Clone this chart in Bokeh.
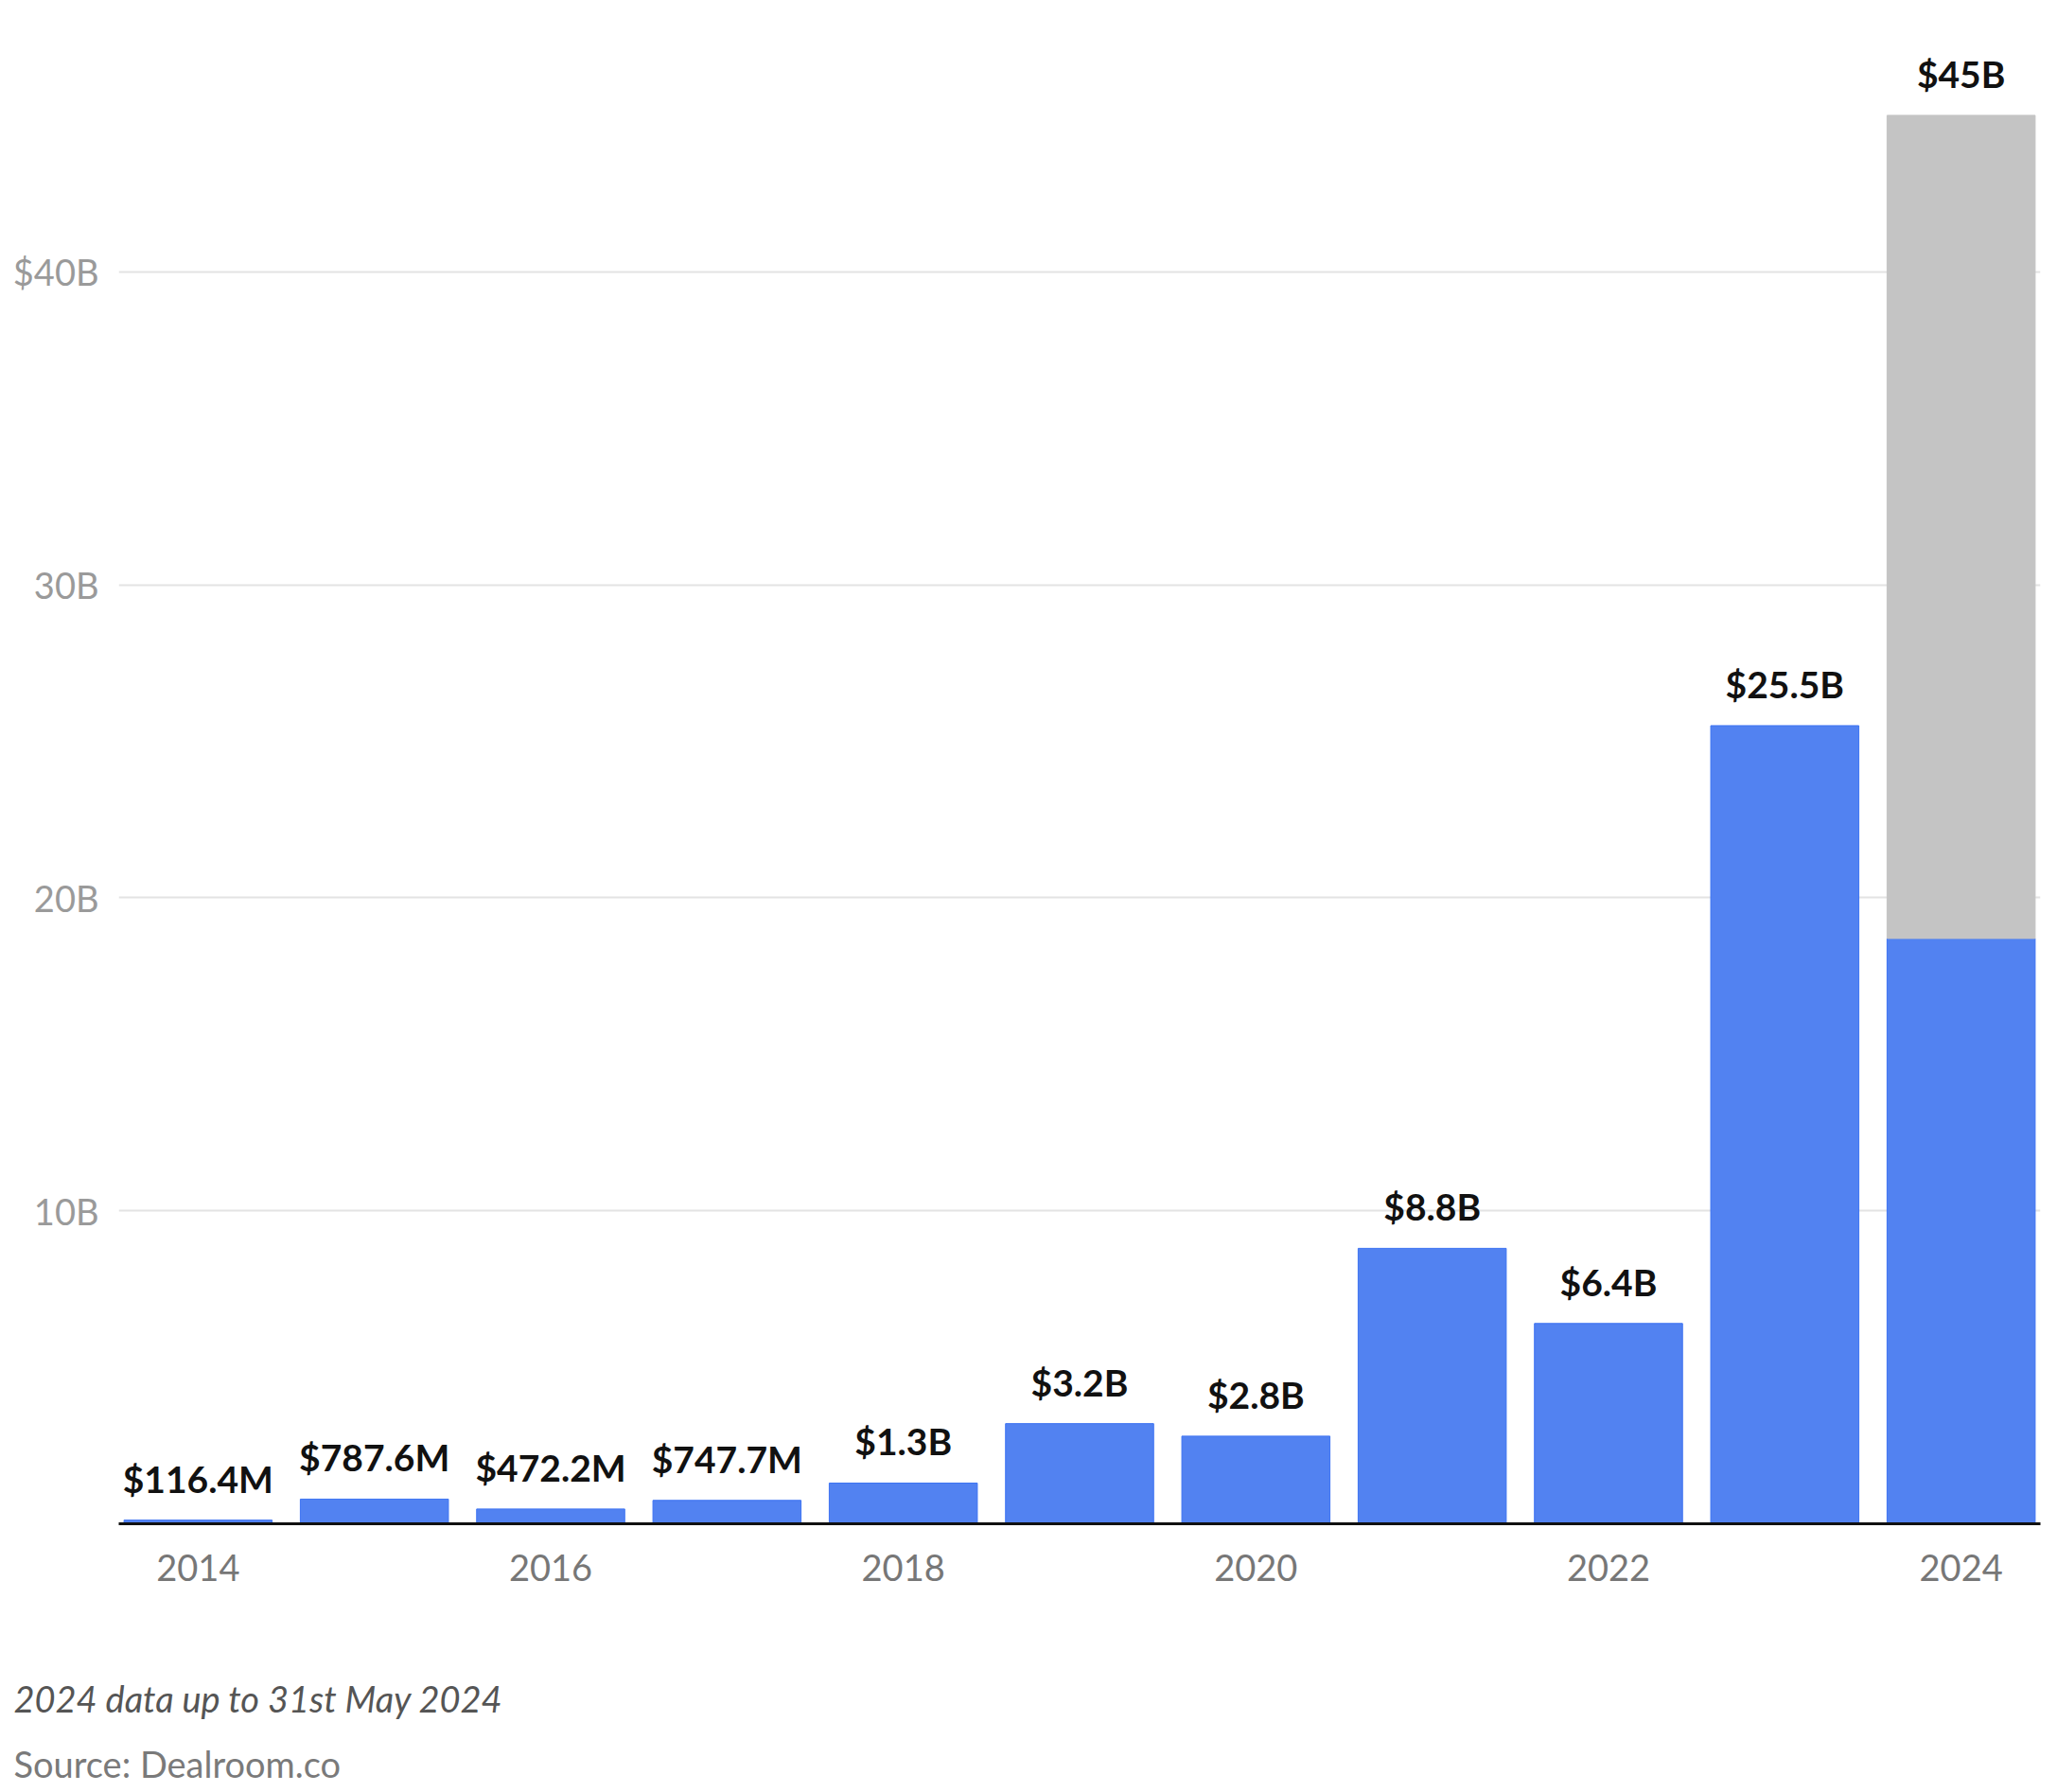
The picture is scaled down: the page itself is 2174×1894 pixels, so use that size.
from bokeh.plotting import figure
from bokeh.models import FixedTicker, Title, ColumnDataSource, Range1d
from bokeh.core.properties import value
from bokeh.embed import file_html
from bokeh.resources import INLINE

# ---- data (USD billions) ----
years = [2014, 2015, 2016, 2017, 2018, 2019, 2020, 2021, 2022, 2023, 2024]
funding = [0.1164, 0.7876, 0.4722, 0.7477, 1.3, 3.2, 2.8, 8.8, 6.4, 25.5, 18.7]
labels = ["$116.4M", "$787.6M", "$472.2M", "$747.7M", "$1.3B", "$3.2B",
          "$2.8B", "$8.8B", "$6.4B", "$25.5B", "$45B"]
projection_year = [2024]
projection_base = [18.7]
projection_total = [45.0]
x_ticks = [2014, 2016, 2018, 2020, 2022, 2024]
y_ticks = [10, 20, 30, 40]
y_tick_labels = {10: "10B", 20: "20B", 30: "30B", 40: "$40B"}

FONT = "Lato"
BLUE = "#5282F1"
GREY = "#C4C4C4"

label_y = funding[:-1] + projection_total

p = figure(width=2166, height=1886, output_backend="svg", toolbar_location=None,
           x_range=Range1d(2013.55, 2024.45), y_range=Range1d(0, 48.67),
           min_border_left=125, min_border_right=10, min_border_top=0,
           min_border_bottom=0, outline_line_color=None,
           background_fill_color="white", border_fill_color="white")

p.vbar(x=years, top=funding, width=0.84, fill_color=BLUE,
       line_color="#3d73f2", line_width=1)
p.vbar(x=projection_year, bottom=projection_base, top=projection_total, width=0.84,
       fill_color=GREY, line_color=GREY, line_width=1)

src = ColumnDataSource(dict(x=years, y=label_y, t=labels))
p.text(x="x", y="y", text="t", source=src, text_align="center",
       text_baseline="alphabetic", y_offset=-44, text_font=value(FONT),
       text_font_style="bold", text_font_size="39px", text_color="#111111")

# axes
p.xaxis.ticker = FixedTicker(ticks=x_ticks)
p.xaxis.major_tick_line_color = None
p.xaxis.minor_tick_line_color = None
p.xaxis.axis_line_color = "#111111"
p.xaxis.axis_line_width = 3
p.xaxis.major_label_text_font = FONT
p.xaxis.major_label_text_font_size = "38px"
p.xaxis.major_label_text_color = "#777777"
p.xaxis.major_label_standoff = 26

p.yaxis.ticker = FixedTicker(ticks=y_ticks)
p.yaxis.major_label_overrides = y_tick_labels
p.yaxis.major_tick_line_color = None
p.yaxis.minor_tick_line_color = None
p.yaxis.axis_line_color = None
p.yaxis.major_label_text_font = FONT
p.yaxis.major_label_text_font_size = "38px"
p.yaxis.major_label_text_color = "#9a9a9a"
p.yaxis.major_label_standoff = 15

p.xgrid.grid_line_color = None
p.ygrid.grid_line_color = "#e3e3e3"
p.ygrid.grid_line_width = 2

spacer = Title(text=" ", text_font_size="1px", standoff=73)
t1 = Title(text="2024 data up to 31st May 2024", align="left", offset=-111,
           text_font=FONT, text_font_style="italic", text_font_size="38px",
           text_color="#555555", standoff=41)
t2 = Title(text="Source: Dealroom.co", align="left", offset=-111,
           text_font=FONT, text_font_style="normal", text_font_size="38px",
           text_color="#7a7a7a", standoff=0)
p.add_layout(spacer, "below")
p.add_layout(t1, "below")
p.add_layout(t2, "below")

open("out.html", "w").write(file_html(p, INLINE))
